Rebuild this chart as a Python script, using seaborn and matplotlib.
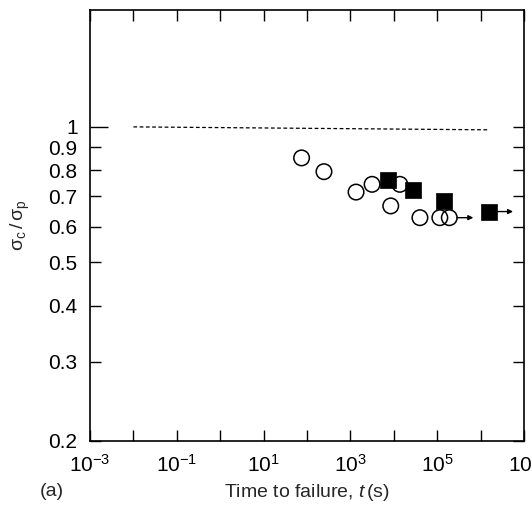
import numpy as np
import pandas as pd
import matplotlib
matplotlib.use("Agg")
import matplotlib.pyplot as plt
import seaborn as sns
from matplotlib.ticker import FixedLocator, FuncFormatter, NullLocator

sns.set_style("ticks")
plt.rcParams['font.family'] = ['Liberation Sans', 'DejaVu Sans']
plt.rcParams['mathtext.fontset'] = 'custom'
plt.rcParams['mathtext.rm'] = 'Liberation Sans'
plt.rcParams['mathtext.it'] = 'Liberation Sans:italic'

# Dados
t_circ = [75, 246, 1350, 3160, 13800, 8500, 40000, 115000, 190000]
r_circ = [0.853, 0.795, 0.716, 0.745, 0.745, 0.667, 0.628, 0.628, 0.628]
t_sq = [7200, 27300, 145000, 1.58e6]
r_sq = [0.762, 0.724, 0.684, 0.648]
# setas (ensaios não rompidos): início, fim, nível
arrow_start = [190000, 1.58e6]
arrow_end = [6.8e5, 5.6e6]
arrow_level = [0.628, 0.648]
# linha tracejada de referência
t_ref = [1e-2, 1.5e6]
r_ref = [1.0, 0.985]

y_ticks = [0.2, 0.3, 0.4, 0.5, 0.6, 0.7, 0.8, 0.9, 1]
x_ticks = [10.0 ** k for k in range(-3, 8)]

circ = pd.DataFrame({'t': t_circ, 'r': r_circ})
sq = pd.DataFrame({'t': t_sq, 'r': r_sq})
ref = pd.DataFrame({'t': t_ref, 'r': r_ref})

fig = plt.figure(figsize=(5.32, 5.07), dpi=100)
ax = fig.add_axes([90 / 532, 1 - 441 / 507, (524 - 90) / 532, (441 - 10) / 507])

sns.lineplot(data=ref, x='t', y='r', ax=ax, color='black', lw=0.9,
             linestyle=(0, (3, 2)))
sns.scatterplot(data=circ, x='t', y='r', ax=ax, marker='o', s=125,
                facecolor='none', edgecolor='black', linewidth=1.1, zorder=3)
sns.scatterplot(data=sq, x='t', y='r', ax=ax, marker='s', s=120,
                color='black', edgecolor='black', linewidth=0.5, zorder=4)

for x0, x1, y in zip(arrow_start, arrow_end, arrow_level):
    ax.annotate('', xy=(x1, y), xytext=(x0, y),
                arrowprops=dict(arrowstyle='-|>', color='black', lw=1.0,
                                mutation_scale=7, shrinkA=5.5, shrinkB=0))

ax.set_xscale('log')
ax.set_yscale('log')
ax.set_xlim(1e-3, 1e7)
ax.set_ylim(0.2, 1.82)

ax.xaxis.set_major_locator(FixedLocator(x_ticks))
ax.xaxis.set_minor_locator(NullLocator())
ax.xaxis.set_major_formatter(FuncFormatter(
    lambda v, p: r'$\mathregular{10^{%d}}$' % round(np.log10(v))
    if round(np.log10(v)) % 2 != 0 else ''))
ax.yaxis.set_major_locator(FixedLocator(y_ticks))
ax.yaxis.set_minor_locator(NullLocator())
ax.yaxis.set_major_formatter(FuncFormatter(lambda v, p: '%g' % v))

ax.tick_params(which='major', direction='in', top=True, right=True,
               length=8, width=1.0, labelsize=15, colors='black')
ax.tick_params(axis='x', pad=9)
ax.tick_params(axis='y', pad=9)
# o tique em 1 é mais comprido no original
ax.yaxis.get_major_ticks()[-1].tick1line.set_markersize(13)
for s in ax.spines.values():
    s.set_linewidth(1.2)
    s.set_color('black')

ax.set_xlabel(r'Time to failure, $\mathit{t}\,$(s)', fontsize=14, labelpad=5)
ax.set_ylabel(r'$\mathregular{\sigma_c\,/\,\sigma_p}$', fontsize=14, labelpad=12)
fig.text(40 / 532, 1 - 491 / 507, '(a)', fontsize=14, va='center')

fig.savefig('out.png', dpi=100)
